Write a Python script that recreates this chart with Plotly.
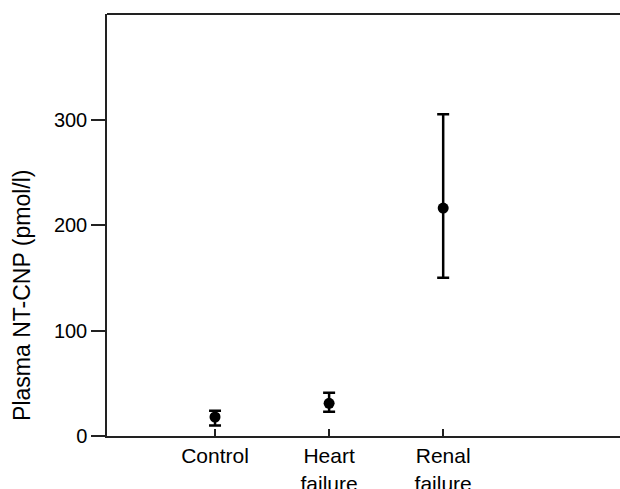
import plotly.graph_objects as go

categories = ["Control", "Heart<br>failure", "Renal<br>failure"]
x_pos = [1, 2, 3]
means = [18, 31, 216]
upper = [24, 41, 305]
lower = [10, 23, 150]
y_ticks = [0, 100, 200, 300]
y_title = "Plasma NT-CNP (pmol/l)"

err_plus = [u - m for u, m in zip(upper, means)]
err_minus = [m - l for m, l in zip(means, lower)]

FONT = "Liberation Sans, Arial, Helvetica, sans-serif"

fig = go.Figure()
fig.add_trace(go.Scatter(
    x=x_pos, y=means, mode="markers",
    marker=dict(color="black", size=11),
    error_y=dict(type="data", symmetric=False, array=err_plus, arrayminus=err_minus,
                 color="black", thickness=2.5, width=6),
    showlegend=False,
))

fig.add_annotation(
    text=y_title, xref="paper", yref="paper", x=0, y=0.332,
    xanchor="center", yanchor="middle", xshift=-85, textangle=-90,
    showarrow=False, font=dict(family=FONT, size=23, color="black"),
)

# top border of the frame
fig.add_shape(type="line", xref="paper", yref="paper", x0=0, x1=1, y0=1, y1=1,
              line=dict(color="#222", width=2))

fig.update_layout(
    width=620, height=489,
    margin=dict(l=107, r=0, t=14, b=53, autoexpand=False),
    paper_bgcolor="white", plot_bgcolor="white",
    font=dict(family=FONT, size=20, color="black"),
    xaxis=dict(
        range=[0.053, 4.55], tickmode="array", tickvals=x_pos, ticktext=categories,
        showline=True, linecolor="#222", linewidth=2, mirror=False,
        ticks="inside", ticklen=7, tickwidth=2, tickcolor="#222",
        showgrid=False, zeroline=False, ticklabelstandoff=0, automargin=False,
        tickfont=dict(family=FONT, size=21, color="black"),
    ),
    yaxis=dict(
        range=[0, 400], tickmode="array", tickvals=y_ticks,
        showline=True, linecolor="#222", linewidth=1.5,
        ticks="outside", ticklen=14, tickwidth=1.5, tickcolor="#222",
        showgrid=False, zeroline=False, ticklabelstandoff=0, automargin=False,
        tickfont=dict(family=FONT, size=20, color="black"),
    ),
)

fig.write_html(
    "out.html",
    config={"displayModeBar": False},
    post_script=(
        "var s='margin:0;padding:0;overflow:hidden;height:489px;';"
        "document.documentElement.style.cssText+=s;"
        "document.body.style.cssText+=s;"
    ),
)
